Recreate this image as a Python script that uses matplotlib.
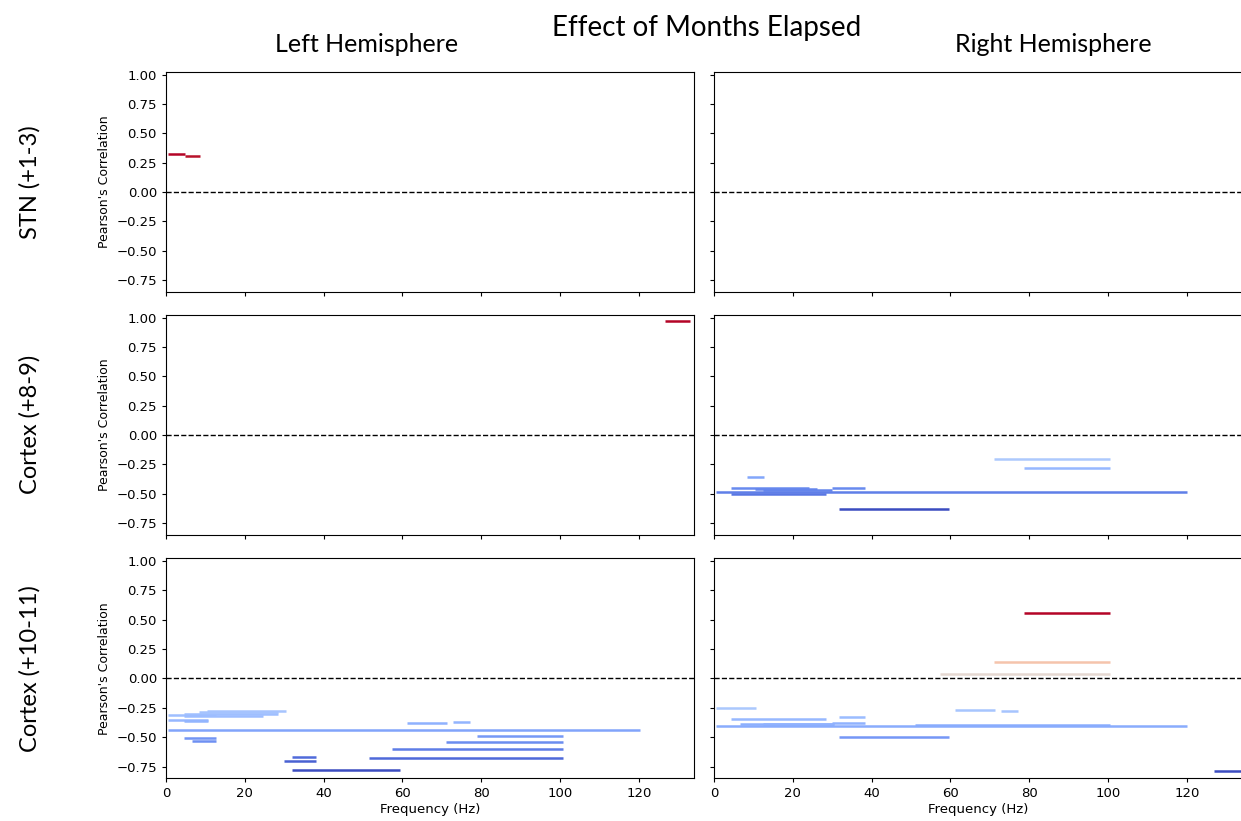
import numpy as np
import matplotlib
matplotlib.use("Agg")
import matplotlib.pyplot as plt
from matplotlib.colors import TwoSlopeNorm

# significant frequency ranges per panel: (start Hz, end Hz, Pearson r)
stn_left = [(0.6, 4.8, 0.32), (4.8, 8.6, 0.31)]
stn_right = []

ctx89_left = [(126.6, 133.1, 0.97)]
ctx89_right = [
    (71.0, 100.5, -0.20), (78.7, 100.5, -0.28), (8.3, 12.8, -0.355),
    (4.4, 24.2, -0.447), (29.9, 38.2, -0.447), (10.3, 26.1, -0.456),
    (12.4, 29.9, -0.464), (0.4, 120.0, -0.481), (4.4, 28.4, -0.505),
    (31.8, 59.6, -0.632),
]

ctx1011_left = [
    (10.3, 30.4, -0.276), (8.4, 28.4, -0.285), (4.6, 28.4, -0.305),
    (0.6, 12.7, -0.31), (4.6, 24.5, -0.32), (0.6, 10.7, -0.35),
    (4.6, 10.7, -0.36), (61.1, 71.3, -0.38), (72.9, 77.2, -0.37),
    (0.6, 120.3, -0.44), (79.0, 100.8, -0.49), (4.6, 12.7, -0.507),
    (6.6, 12.7, -0.53), (71.0, 100.8, -0.54), (57.3, 100.8, -0.60),
    (32.0, 38.1, -0.67), (51.4, 100.8, -0.675), (30.0, 38.1, -0.706),
    (32.0, 59.5, -0.78),
]
ctx1011_right = [
    (78.7, 100.5, 0.554), (71.0, 100.5, 0.139), (57.3, 100.5, 0.037),
    (0.6, 10.7, -0.253), (61.2, 71.4, -0.27), (72.8, 77.2, -0.28),
    (31.8, 38.2, -0.327), (4.4, 28.4, -0.344), (29.9, 38.2, -0.378),
    (6.6, 30.4, -0.39), (12.4, 30.4, -0.385), (51.1, 100.5, -0.398),
    (0.4, 120.0, -0.406), (31.8, 59.6, -0.50), (126.8, 134.0, -0.785),
]

row_labels = ["STN (+1-3)", "Cortex (+8-9)", "Cortex (+10-11)"]
col_labels = ["Left Hemisphere", "Right Hemisphere"]
panels = [[stn_left, stn_right],
          [ctx89_left, ctx89_right],
          [ctx1011_left, ctx1011_right]]

W, H = 1241, 821
fig = plt.figure(figsize=(W / 100, H / 100), dpi=100)

lefts = [166, 714]
tops = [71.6, 314.6, 558.0]
ax_w, ax_h = 528, 220.4

title_font = ["Lato", "DejaVu Sans"]

for i in range(3):
    for j in range(2):
        ax = fig.add_axes([lefts[j] / W, 1 - (tops[i] + ax_h) / H, ax_w / W, ax_h / H])
        segs = panels[i][j]
        ax.axhline(0, color="black", linestyle="--", linewidth=1)
        if segs:
            lo = np.array([s[0] for s in segs])
            hi = np.array([s[1] for s in segs])
            r = np.array([s[2] for s in segs])
            norm = TwoSlopeNorm(vcenter=0, vmin=min(r.min(), -0.01), vmax=max(r.max(), 0.01))
            ax.hlines(r, lo, hi, colors=plt.cm.coolwarm(norm(r)), linewidth=1.8)
        ax.set_xlim(0, 134)
        ax.set_ylim(-0.85, 1.025)
        ax.set_yticks([-0.75, -0.5, -0.25, 0, 0.25, 0.5, 0.75, 1.0])
        ax.set_xticks([0, 20, 40, 60, 80, 100, 120])
        ax.tick_params(labelsize=9.5, length=3)
        if j == 0:
            ax.set_ylabel("Pearson's Correlation", fontsize=9)
        else:
            ax.set_yticklabels([])
        if i == 2:
            ax.set_xlabel("Frequency (Hz)", fontsize=9.5, labelpad=2)
        else:
            ax.set_xticklabels([])

fig.text(707 / W, 1 - 28 / H, "Effect of Months Elapsed", ha="center", va="center",
         fontsize=20, family=title_font)
fig.text(367 / W, 1 - 45 / H, col_labels[0], ha="center", va="center",
         fontsize=18, family=title_font)
fig.text(1053 / W, 1 - 45 / H, col_labels[1], ha="center", va="center",
         fontsize=18, family=title_font)
for i, lab in enumerate(row_labels):
    yc = tops[i] + ax_h / 2
    fig.text(30 / W, 1 - yc / H, lab, ha="center", va="center", rotation=90,
             fontsize=17, family=title_font)

fig.savefig("out.png", dpi=100)
